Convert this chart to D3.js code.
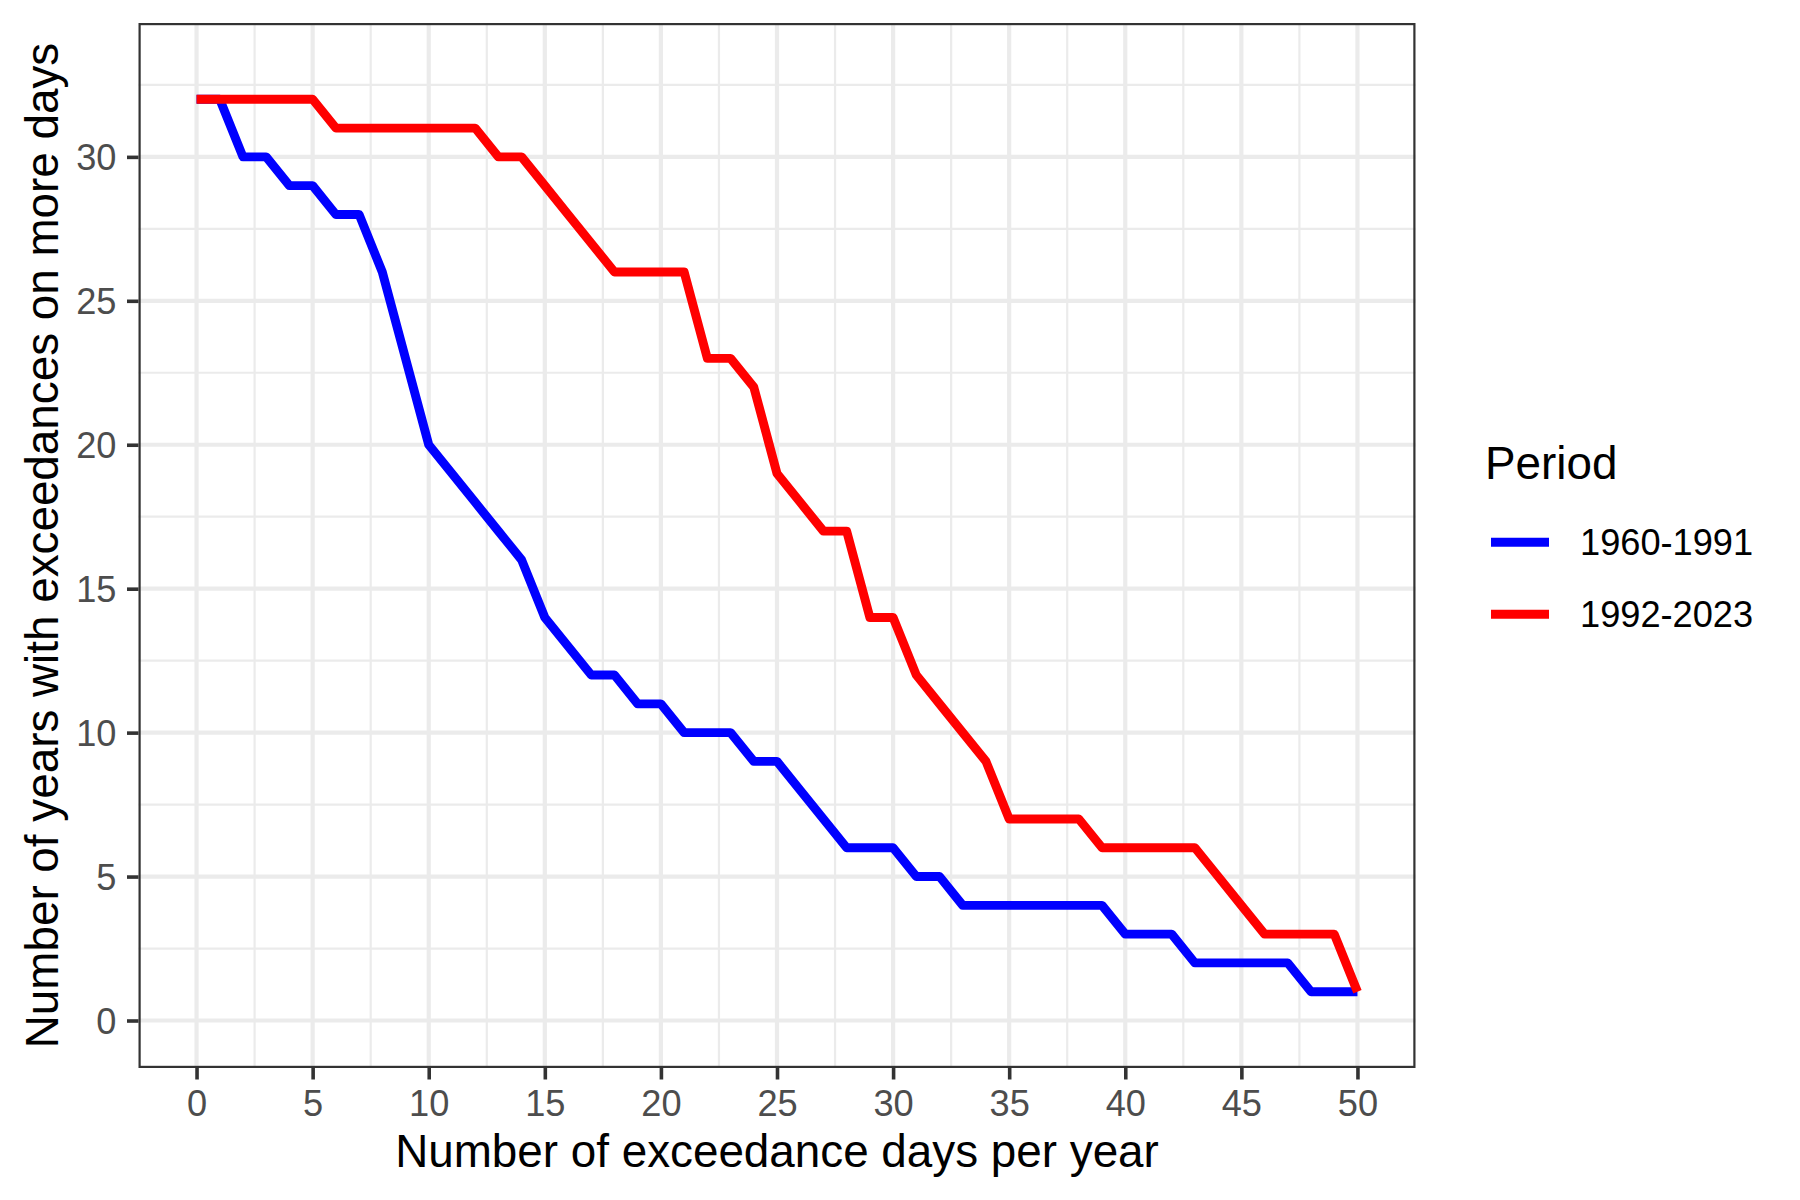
<!DOCTYPE html>
<html>
<head>
<meta charset="utf-8">
<script src="https://cdnjs.cloudflare.com/ajax/libs/d3/7.8.5/d3.min.js"></script>
<style>
  body { margin: 0; background: #fff; }
  text { font-family: "Liberation Sans", Arial, Helvetica, sans-serif; }
</style>
</head>
<body>
<div id="chart"></div>
<script>
// exceedance days per year (x) and number of years with at least that many days
var days = [0, 1, 2, 3, 4, 5, 6, 7, 8, 9, 10, 11, 12, 13, 14, 15, 16, 17, 18, 19, 20,
            21, 22, 23, 24, 25, 26, 27, 28, 29, 30, 31, 32, 33, 34, 35, 36, 37, 38, 39, 40,
            41, 42, 43, 44, 45, 46, 47, 48, 49, 50];
var early = [32, 32, 30, 30, 29, 29, 28, 28, 26, 23, 20, 19, 18, 17, 16, 14, 13, 12, 12, 11, 11,
             10, 10, 10, 9, 9, 8, 7, 6, 6, 6, 5, 5, 4, 4, 4, 4, 4, 4, 4, 3,
             3, 3, 2, 2, 2, 2, 2, 1, 1, 1];
var late = [32, 32, 32, 32, 32, 32, 31, 31, 31, 31, 31, 31, 31, 30, 30, 29, 28, 27, 26, 26, 26,
            26, 23, 23, 22, 19, 18, 17, 17, 14, 14, 12, 11, 10, 9, 7, 7, 7, 7, 6, 6,
            6, 6, 6, 5, 4, 3, 3, 3, 3, 1];
var periods = ["1960-1991", "1992-2023"];
var periodColors = ["#0000FF", "#FF0000"];
var xTicks = [0, 5, 10, 15, 20, 25, 30, 35, 40, 45, 50];
var yTicks = [0, 5, 10, 15, 20, 25, 30];

var width = 1800, height = 1200;
var panel = { left: 138.5, right: 1415.5, top: 23, bottom: 1068 };

var svg = d3.select("#chart")
  .append("svg")
  .attr("width", width)
  .attr("height", height);

svg.append("rect")
  .attr("width", width)
  .attr("height", height)
  .attr("fill", "#fff");

var x = d3.scaleLinear().domain([-2.5, 52.5]).range([panel.left, panel.right]);
var y = d3.scaleLinear().domain([-1.65, 34.65]).range([panel.bottom, panel.top]);

// minor grid sits halfway between the major breaks
var xMinor = xTicks.slice(0, -1).map(function(d, i) { return (d + xTicks[i + 1]) / 2; });
var yMinor = yTicks.map(function(d) { return d + 2.5; });

var grid = svg.append("g").attr("class", "grid");

grid.selectAll(".xminor")
  .data(xMinor)
  .enter().append("line")
  .attr("x1", function(d) { return x(d); })
  .attr("x2", function(d) { return x(d); })
  .attr("y1", panel.top)
  .attr("y2", panel.bottom)
  .attr("stroke", "#EBEBEB")
  .attr("stroke-width", 2.2);

grid.selectAll(".yminor")
  .data(yMinor)
  .enter().append("line")
  .attr("x1", panel.left)
  .attr("x2", panel.right)
  .attr("y1", function(d) { return y(d); })
  .attr("y2", function(d) { return y(d); })
  .attr("stroke", "#EBEBEB")
  .attr("stroke-width", 2.2);

grid.selectAll(".xmajor")
  .data(xTicks)
  .enter().append("line")
  .attr("x1", function(d) { return x(d); })
  .attr("x2", function(d) { return x(d); })
  .attr("y1", panel.top)
  .attr("y2", panel.bottom)
  .attr("stroke", "#EBEBEB")
  .attr("stroke-width", 4.2);

grid.selectAll(".ymajor")
  .data(yTicks)
  .enter().append("line")
  .attr("x1", panel.left)
  .attr("x2", panel.right)
  .attr("y1", function(d) { return y(d); })
  .attr("y2", function(d) { return y(d); })
  .attr("stroke", "#EBEBEB")
  .attr("stroke-width", 4.2);

// the two curves, red drawn last so it sits on top
var series = [early, late];
var line = d3.line()
  .x(function(d, i) { return x(days[i]); })
  .y(function(d) { return y(d); });

svg.append("g")
  .selectAll("path")
  .data(series)
  .enter().append("path")
  .attr("d", function(d) { return line(d); })
  .attr("fill", "none")
  .attr("stroke", function(d, i) { return periodColors[i]; })
  .attr("stroke-width", 8.9)
  .attr("stroke-linejoin", "round")
  .attr("stroke-linecap", "butt");

// panel border (ggplot clips half of it)
svg.append("rect")
  .attr("x", panel.left + 1.1)
  .attr("y", panel.top + 1.1)
  .attr("width", panel.right - panel.left - 2.2)
  .attr("height", panel.bottom - panel.top - 2.2)
  .attr("fill", "none")
  .attr("stroke", "#333333")
  .attr("stroke-width", 2.2);

// axes
var xAxis = svg.append("g")
  .attr("transform", "translate(0," + panel.bottom + ")")
  .call(d3.axisBottom(x).tickValues(xTicks).tickSize(11.5).tickPadding(10));

var yAxis = svg.append("g")
  .attr("transform", "translate(" + panel.left + ",0)")
  .call(d3.axisLeft(y).tickValues(yTicks).tickSize(11.5).tickPadding(10));

[xAxis, yAxis].forEach(function(ax) {
  ax.select(".domain").remove();
  ax.selectAll(".tick line").attr("stroke", "#333333").attr("stroke-width", 3.6);
  ax.selectAll(".tick text")
    .attr("fill", "#4D4D4D")
    .style("font-size", "36.2px")
    .style("font-family", "'Liberation Sans', Arial, sans-serif");
});
xAxis.selectAll(".tick text").attr("dy", null).attr("y", 48);
yAxis.selectAll(".tick text").attr("dy", "0.35em").attr("x", -22);

// axis titles
svg.append("text")
  .attr("x", (panel.left + panel.right) / 2)
  .attr("y", 1166.5)
  .attr("text-anchor", "middle")
  .style("font-size", "45.8px")
  .attr("fill", "#000")
  .text("Number of exceedance days per year");

svg.append("text")
  .attr("transform", "translate(58," + ((panel.top + panel.bottom) / 2) + ") rotate(-90)")
  .attr("text-anchor", "middle")
  .style("font-size", "45.8px")
  .attr("fill", "#000")
  .text("Number of years with exceedances on more days");

// legend
var legend = svg.append("g");
legend.append("text")
  .attr("x", 1485)
  .attr("y", 479)
  .style("font-size", "45.8px")
  .attr("fill", "#000")
  .text("Period");

var keys = legend.selectAll(".key")
  .data(periods)
  .enter().append("g")
  .attr("class", "key")
  .attr("transform", function(d, i) { return "translate(0," + (542.3 + i * 72) + ")"; });

keys.append("line")
  .attr("x1", 1491)
  .attr("x2", 1549)
  .attr("y1", 0)
  .attr("y2", 0)
  .attr("stroke", function(d, i) { return periodColors[i]; })
  .attr("stroke-width", 8.9);

keys.append("text")
  .attr("x", 1580)
  .attr("y", 12.9)
  .style("font-size", "36.2px")
  .attr("fill", "#000")
  .text(function(d) { return d; });
</script>
</body>
</html>
